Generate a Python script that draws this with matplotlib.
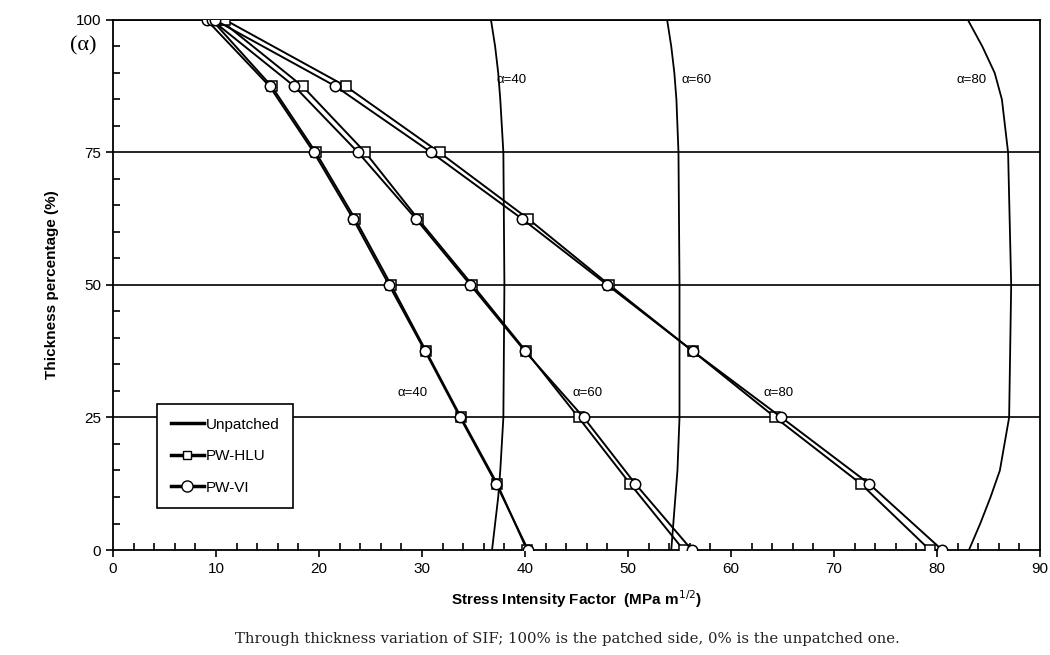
import matplotlib.pyplot as plt
from matplotlib.ticker import MultipleLocator
from matplotlib.lines import Line2D

# thickness levels (%) for the patched results
thick = [100, 87.5, 75, 62.5, 50, 37.5, 25, 12.5, 0]

vi_40 = [9.1, 15.2, 19.5, 23.3, 26.8, 30.3, 33.7, 37.2, 40.3]
hlu_40 = [9.6, 15.4, 19.7, 23.5, 27.0, 30.4, 33.8, 37.3, 40.2]
vi_60 = [9.6, 17.6, 23.8, 29.4, 34.7, 40.0, 45.7, 50.7, 56.2]
hlu_60 = [10.4, 18.4, 24.5, 29.6, 34.9, 40.1, 45.2, 50.2, 55.4]
vi_80 = [9.9, 21.6, 30.9, 39.7, 48.0, 56.3, 64.9, 73.4, 80.5]
hlu_80 = [10.9, 22.6, 31.7, 40.3, 48.2, 56.3, 64.3, 72.6, 79.3]

# unpatched curves, read at their own levels
thick_u = [100, 95, 90, 85, 75, 50, 25, 15, 10, 5, 0]
unp_40 = [36.7, 37.1, 37.4, 37.6, 37.9, 38.0, 37.9, 37.6, 37.4, 37.1, 36.8]
unp_60 = [53.8, 54.2, 54.5, 54.7, 54.9, 55.0, 55.0, 54.8, 54.6, 54.4, 54.2]
unp_80 = [83.0, 84.4, 85.6, 86.3, 86.9, 87.2, 87.0, 86.1, 85.2, 84.2, 83.1]

alpha_labels = ["\u03b1=40", "\u03b1=60", "\u03b1=80"]
top_label_x = [38.7, 56.7, 83.4]
low_label_x = [29.1, 46.1, 64.6]

fig = plt.figure(figsize=(10.5, 6.55), dpi=100)
ax = fig.add_axes([0.1076, 0.1603, 0.8829, 0.8092])

for y in [25, 50, 75, 100]:
    ax.axhline(y, color="black", lw=1.2, zorder=1)

for u in [unp_40, unp_60, unp_80]:
    ax.plot(u, thick_u, color="black", lw=1.3, zorder=2)

mk = dict(color="black", lw=1.4, markersize=7.5, markerfacecolor="white",
          markeredgecolor="black", markeredgewidth=1.1, zorder=3)
for h in [hlu_40, hlu_60, hlu_80]:
    ax.plot(h, thick, marker="s", **mk)
for v in [vi_40, vi_60, vi_80]:
    ax.plot(v, thick, marker="o", **mk)

for lab, xt in zip(alpha_labels, top_label_x):
    ax.text(xt, 88.7, lab, fontsize=9.5, ha="center", va="center", family="Liberation Sans")
for lab, xl in zip(alpha_labels, low_label_x):
    ax.text(xl, 29.6, lab, fontsize=9.5, ha="center", va="center", family="Liberation Sans")

ax.set_xlim(0, 90)
ax.set_ylim(0, 100)
ax.xaxis.set_major_locator(MultipleLocator(10))
ax.xaxis.set_minor_locator(MultipleLocator(2))
ax.yaxis.set_major_locator(MultipleLocator(25))
ax.yaxis.set_minor_locator(MultipleLocator(5))
ax.tick_params(which="major", direction="out", length=5, width=1.2, labelsize=11)
ax.tick_params(which="minor", direction="in", length=5, width=1.2)
for lbl in ax.get_xticklabels() + ax.get_yticklabels():
    lbl.set_family("Liberation Sans")
for s in ax.spines.values():
    s.set_linewidth(1.3)

ax.set_xlabel("Stress Intensity Factor  (MPa m$^{1/2}$)", fontsize=11, fontweight="bold",
              family="Liberation Sans", labelpad=9)
ax.set_ylabel("Thickness percentage (%)", fontsize=11, fontweight="bold",
              family="Liberation Sans", labelpad=12)

handles = [
    Line2D([], [], color="black", lw=2.5),
    Line2D([], [], color="black", lw=2.5, marker="s", markersize=6,
           markerfacecolor="white", markeredgecolor="black"),
    Line2D([], [], color="black", lw=2.5, marker="o", markersize=8,
           markerfacecolor="white", markeredgecolor="black"),
]
leg = ax.legend(handles, ["Unpatched", "PW-HLU", "PW-VI"], loc="lower left",
                bbox_to_anchor=(0.039, 0.064), fancybox=False, edgecolor="black",
                framealpha=1, prop={"family": "Liberation Sans", "size": 11},
                handlelength=2.2, handletextpad=0.1, labelspacing=1.15,
                borderpad=0.9)
leg.get_frame().set_linewidth(1.2)

fig.text(0.067, 0.93, "(\u03b1)", fontsize=16, family="Liberation Serif", va="center")
fig.text(0.224, 0.025, "Through thickness variation of SIF; 100% is the patched side, 0% is the unpatched one.",
         fontsize=10.7, family="DejaVu Serif", va="center", color="#222222")

fig.savefig("out.png", dpi=100)
